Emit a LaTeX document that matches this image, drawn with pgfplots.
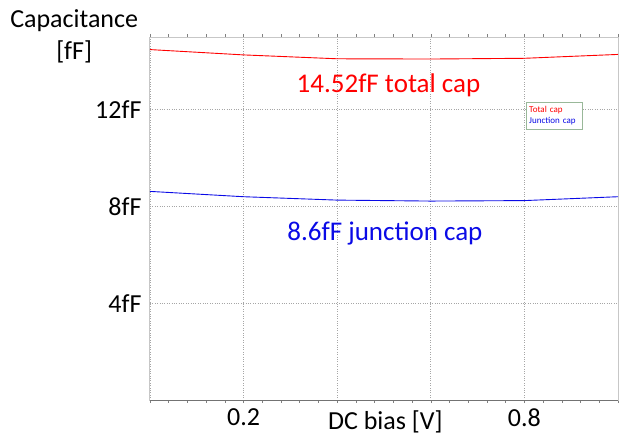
\documentclass[border=0pt]{standalone}
\usepackage{pgfplots}
\pgfplotsset{compat=1.18}
\usepackage{fontspec}
\setmainfont{Carlito}
\definecolor{redc}{RGB}{255,0,0}
\definecolor{bluec}{RGB}{10,10,230}
\begin{document}
\begin{tikzpicture}
\useasboundingbox (-150bp,-33bp) rectangle (471bp,400bp);
\begin{axis}[
  at={(0,0)}, anchor=south west,
  scale only axis, width=468bp, height=363bp,
  xmin=0, xmax=1, ymin=0, ymax=15,
  /pgf/number format/assume math mode=true,
  font=\fontsize{26bp}{30bp}\selectfont,
  axis line style={draw=black!22, line width=1pt},
  xtick={0,0.2,0.4,0.6,0.8,1},
  xticklabels={,0.2,,,0.8,},
  minor x tick num=4,
  ytick={4,8,12},
  yticklabels={4fF,8fF,12fF},
  grid=major,
  major grid style={draw=black!35, dotted, line width=0.8pt},
  tick align=outside,
  major tick length=3bp, minor tick length=2.5bp,
  x tick style={draw=black!50, line width=0.6pt},
  y tick style={draw=none},
  xticklabel style={yshift=-2bp},
  yticklabel style={xshift=-2bp},
  legend style={at={(axis cs:0.8035,12.3)}, anchor=north west,
    font=\fontsize{9bp}{10bp}\selectfont, draw=green!30!black!40,
    inner xsep=1.5pt, inner ysep=1.5pt, row sep=0pt,
    nodes={text width=50bp, align=left, inner xsep=1.5pt}},
  legend cell align=left,
  legend image code/.code={},
  clip=false,
]
\addplot[redc, line width=0.9pt] coordinates {(0,14.48) (0.2,14.26) (0.4,14.10) (0.6,14.09) (0.8,14.12) (1,14.28)};
\addplot[bluec, line width=0.9pt] coordinates {(0,8.62) (0.2,8.40) (0.4,8.26) (0.6,8.22) (0.8,8.24) (1,8.40)};
\legend{\textcolor{redc}{Total cap},\textcolor{bluec}{Junction cap}}
\draw[black!55, line width=0.8pt] (axis cs:0,0) -- (axis cs:1,0);
\node[redc, anchor=base, font=\fontsize{27bp}{30bp}\selectfont] at (axis cs:0.5096,12.72) {14.52fF total cap};
\node[bluec, anchor=base, font=\fontsize{27bp}{30bp}\selectfont] at (axis cs:0.502,6.6) {8.6fF junction cap};
\node[align=center, font=\fontsize{26bp}{32bp}\selectfont] at (rel axis cs:-0.162,1.003) {Capacitance\\{[fF]}};
\node[anchor=base, yshift=-29.5bp] at (axis cs:0.503,0) {DC bias [V]};
\end{axis}
\end{tikzpicture}
\end{document}
